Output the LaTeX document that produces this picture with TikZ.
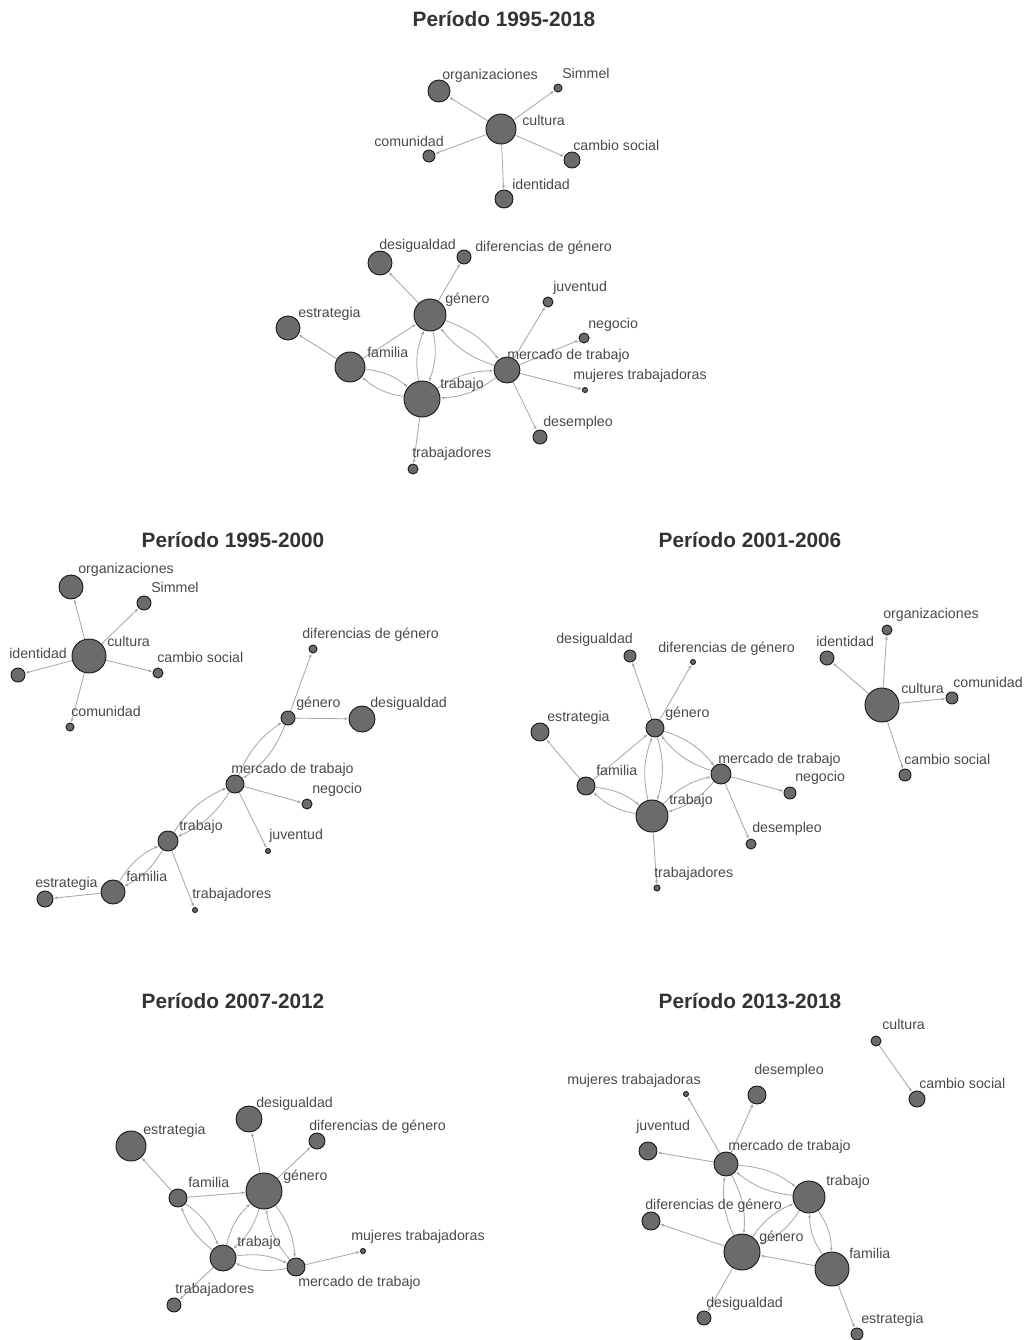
\documentclass[tikz,border=0pt]{standalone}
\usepackage{fontspec}
\setmainfont{Liberation Sans}
\usetikzlibrary{arrows.meta,backgrounds}
\definecolor{nodefill}{HTML}{6B6B6B}
\definecolor{nodeline}{HTML}{1A1A1A}
\definecolor{edgecol}{HTML}{ABABAB}
\definecolor{labcol}{HTML}{4A4A4A}
\definecolor{titcol}{HTML}{333333}
\begin{document}
\begin{tikzpicture}[x=0.75pt,y=-0.75pt,
 nd/.style={circle,draw=nodeline,fill=nodefill,line width=0.7pt,inner sep=0pt,minimum size=#1*1.5pt},
 lab/.style={anchor=west,inner sep=0pt,yshift=-1.1pt,text=labcol,font=\fontsize{10.65}{12}\selectfont,text height=0.72em,text depth=0.2em},
 ttl/.style={text=titcol,font=\fontsize{15.6}{18}\selectfont\bfseries,inner sep=0pt},
 ed/.style={draw=edgecol,line width=0.65pt,-{Latex[length=3pt,width=2.3pt]}},
 dbl/.style={ed,bend left=16}]
\useasboundingbox (0,0) rectangle (1033,1340);

% ---------- titles ----------
\node[ttl] (t1) at (504,19) {Período 1995-2018};
\node[ttl] (t2) at (233,540) {Período 1995-2000};
\node[ttl] (t3) at (750,540) {Período 2001-2006};
\node[ttl] (t4) at (233,1001) {Período 2007-2012};
\node[ttl] (t5) at (750,1001) {Período 2013-2018};

% ---------- Panel A: 1995-2018 ----------
\node[nd=15] (acul) at (501,129) {};
\node[nd=11] (aorg) at (439,91) {};
\node[nd=4] (asim) at (558,88) {};
\node[nd=6] (acom) at (429,156) {};
\node[nd=8] (acam) at (572,160) {};
\node[nd=9] (aide) at (504,199) {};
\node[lab] (aLcul) at (522,121) {cultura};
\node[lab] (aLorg) at (442,75) {organizaciones};
\node[lab] (aLsim) at (562,74) {Simmel};
\node[lab] (aLcom) at (374,142) {comunidad};
\node[lab] (aLcam) at (573,146) {cambio social};
\node[lab] (aLide) at (512,185) {identidad};

\node[nd=12] (adesi) at (380,263) {};
\node[nd=7] (adif) at (464,257) {};
\node[nd=16] (agen) at (430,315) {};
\node[nd=12] (aest) at (288,328) {};
\node[nd=15] (afam) at (350,367) {};
\node[nd=18] (atra) at (422,399) {};
\node[nd=13] (amer) at (507,370) {};
\node[nd=5] (ajuv) at (548,302) {};
\node[nd=5] (aneg) at (584,338) {};
\node[nd=2.5] (amuj) at (585,390) {};
\node[nd=7] (adese) at (540,437) {};
\node[nd=5] (atrs) at (413,469) {};
\node[lab] (aLdesi) at (379,245) {desigualdad};
\node[lab] (aLdif) at (475,247) {diferencias de género};
\node[lab] (aLgen) at (445,299) {género};
\node[lab] (aLest) at (298,313) {estrategia};
\node[lab] (aLfam) at (367,353) {familia};
\node[lab] (aLtra) at (440,384) {trabajo};
\node[lab] (aLmer) at (507,355) {mercado de trabajo};
\node[lab] (aLjuv) at (553,287) {juventud};
\node[lab] (aLneg) at (588,324) {negocio};
\node[lab] (aLmuj) at (573,375) {mujeres trabajadoras};
\node[lab] (aLdese) at (543,422) {desempleo};
\node[lab] (aLtrs) at (412,453) {trabajadores};

% ---------- Panel B: 1995-2000 ----------
\node[nd=17] (bcul) at (89,656) {};
\node[nd=12] (borg) at (71,587) {};
\node[nd=7] (bsim) at (144,603) {};
\node[nd=7] (bide) at (18,675) {};
\node[nd=5] (bcam) at (158,673) {};
\node[nd=4] (bcom) at (70,727) {};
\node[nd=4] (bdif) at (313,649) {};
\node[nd=7] (bgen) at (288,718) {};
\node[nd=13] (bdesi) at (362,719) {};
\node[nd=9] (bmer) at (235,784) {};
\node[nd=5] (bneg) at (307,804) {};
\node[nd=2.5] (bjuv) at (268,851) {};
\node[nd=10] (btra) at (168,841) {};
\node[nd=2.5] (btrs) at (195,910) {};
\node[nd=12] (bfam) at (113,892) {};
\node[nd=8] (best) at (45,899) {};
\node[lab] (bLorg) at (78,569) {organizaciones};
\node[lab] (bLsim) at (151,588) {Simmel};
\node[lab] (bLcul) at (107,642) {cultura};
\node[lab] (bLide) at (9,654) {identidad};
\node[lab] (bLcam) at (157,658) {cambio social};
\node[lab] (bLcom) at (71,712) {comunidad};
\node[lab] (bLdif) at (302,634) {diferencias de género};
\node[lab] (bLgen) at (296,703) {género};
\node[lab] (bLdesi) at (370,703) {desigualdad};
\node[lab] (bLmer) at (231,769) {mercado de trabajo};
\node[lab] (bLneg) at (312,789) {negocio};
\node[lab] (bLjuv) at (269,835) {juventud};
\node[lab] (bLtra) at (179,826) {trabajo};
\node[lab] (bLtrs) at (192,894) {trabajadores};
\node[lab] (bLfam) at (126,877) {familia};
\node[lab] (bLest) at (35,883) {estrategia};

% ---------- Panel C: 2001-2006 ----------
\node[nd=6] (cdesi) at (630,656) {};
\node[nd=2.5] (cdif) at (693,662) {};
\node[nd=9] (cgen) at (655,728) {};
\node[nd=9] (cest) at (540,732) {};
\node[nd=9] (cfam) at (586,786) {};
\node[nd=16] (ctra) at (652,816) {};
\node[nd=10] (cmer) at (721,774) {};
\node[nd=6] (cneg) at (790,793) {};
\node[nd=5] (cdese) at (751,844) {};
\node[nd=3] (ctrs) at (657,888) {};
\node[nd=5] (corg) at (887,630) {};
\node[nd=7] (cide) at (827,658) {};
\node[nd=17] (ccul) at (882,705) {};
\node[nd=6] (ccom) at (952,698) {};
\node[nd=6] (ccam) at (905,775) {};
\node[lab] (cLdesi) at (556,639) {desigualdad};
\node[lab] (cLdif) at (658,648) {diferencias de género};
\node[lab] (cLgen) at (665,713) {género};
\node[lab] (cLest) at (547,717) {estrategia};
\node[lab] (cLfam) at (596,771) {familia};
\node[lab] (cLtra) at (669,800) {trabajo};
\node[lab] (cLmer) at (718,759) {mercado de trabajo};
\node[lab] (cLneg) at (795,777) {negocio};
\node[lab] (cLdese) at (752,828) {desempleo};
\node[lab] (cLtrs) at (654,873) {trabajadores};
\node[lab] (cLorg) at (883,614) {organizaciones};
\node[lab] (cLide) at (816,642) {identidad};
\node[lab] (cLcul) at (901,689) {cultura};
\node[lab] (cLcom) at (953,683) {comunidad};
\node[lab] (cLcam) at (904,760) {cambio social};

% ---------- Panel D: 2007-2012 ----------
\node[nd=15] (dest) at (131,1146) {};
\node[nd=13] (ddesi) at (249,1119) {};
\node[nd=8] (ddif) at (317,1141) {};
\node[nd=18] (dgen) at (264,1191) {};
\node[nd=9] (dfam) at (178,1198) {};
\node[nd=13] (dtra) at (223,1258) {};
\node[nd=9] (dmer) at (296,1267) {};
\node[nd=2.5] (dmuj) at (363,1251) {};
\node[nd=7] (dtrs) at (174,1305) {};
\node[lab] (dLdesi) at (256,1103) {desigualdad};
\node[lab] (dLest) at (143,1130) {estrategia};
\node[lab] (dLdif) at (309,1126) {diferencias de género};
\node[lab] (dLgen) at (283,1176) {género};
\node[lab] (dLfam) at (188,1183) {familia};
\node[lab] (dLtra) at (237,1242) {trabajo};
\node[lab] (dLmuj) at (351,1236) {mujeres trabajadoras};
\node[lab] (dLmer) at (298,1282) {mercado de trabajo};
\node[lab] (dLtrs) at (175,1289) {trabajadores};

% ---------- Panel E: 2013-2018 ----------
\node[nd=5] (ecul) at (876,1041) {};
\node[nd=8] (ecam) at (917,1099) {};
\node[nd=2.5] (emuj) at (686,1094) {};
\node[nd=9] (edese) at (757,1095) {};
\node[nd=9] (ejuv) at (648,1151) {};
\node[nd=12] (emer) at (726,1164) {};
\node[nd=16] (etra) at (809,1197) {};
\node[nd=9] (edif) at (651,1221) {};
\node[nd=18] (egen) at (742,1252) {};
\node[nd=17] (efam) at (832,1269) {};
\node[nd=7] (edesi) at (704,1318) {};
\node[nd=6] (eest) at (857,1334) {};
\node[lab] (eLcul) at (882,1025) {cultura};
\node[lab] (eLcam) at (919,1084) {cambio social};
\node[lab] (eLmuj) at (567,1080) {mujeres trabajadoras};
\node[lab] (eLdese) at (754,1070) {desempleo};
\node[lab] (eLjuv) at (636,1126) {juventud};
\node[lab] (eLmer) at (728,1146) {mercado de trabajo};
\node[lab] (eLtra) at (826,1181) {trabajo};
\node[lab] (eLdif) at (645,1205) {diferencias de género};
\node[lab] (eLgen) at (759,1237) {género};
\node[lab] (eLfam) at (849,1254) {familia};
\node[lab] (eLdesi) at (706,1303) {desigualdad};
\node[lab] (eLest) at (861,1319) {estrategia};

% ---------- edges (behind) ----------
\begin{pgfonlayer}{background}
\fill[white] (0,0) rectangle (1033,1340);
% A
\foreach \t in {aorg,asim,acom,acam,aide} \draw[ed] (acul) -- (\t);
\draw[ed] (agen) -- (adesi);
\draw[ed] (agen) -- (adif);
\draw[ed] (afam) -- (aest);
\draw[ed] (afam) -- (agen);
\draw[dbl] (afam) to (atra); \draw[dbl] (atra) to (afam);
\draw[dbl] (agen) to (atra); \draw[dbl] (atra) to (agen);
\draw[dbl] (agen) to (amer); \draw[dbl] (amer) to (agen);
\draw[dbl] (atra) to (amer); \draw[dbl] (amer) to (atra);
\foreach \t in {ajuv,aneg,amuj,adese} \draw[ed] (amer) -- (\t);
\draw[ed] (atra) -- (atrs);
% B
\foreach \t in {borg,bsim,bide,bcam,bcom} \draw[ed] (bcul) -- (\t);
\draw[ed] (bgen) -- (bdif);
\draw[ed] (bgen) -- (bdesi);
\draw[dbl] (bgen) to (bmer); \draw[dbl] (bmer) to (bgen);
\draw[ed] (bmer) -- (bneg);
\draw[ed] (bmer) -- (bjuv);
\draw[dbl] (bmer) to (btra); \draw[dbl] (btra) to (bmer);
\draw[ed] (btra) -- (btrs);
\draw[dbl] (btra) to (bfam); \draw[dbl] (bfam) to (btra);
\draw[ed] (bfam) -- (best);
% C
\draw[ed] (cgen) -- (cdesi);
\draw[ed] (cgen) -- (cdif);
\draw[ed] (cfam) -- (cest);
\draw[ed] (cfam) -- (cgen);
\draw[dbl] (cfam) to (ctra); \draw[dbl] (ctra) to (cfam);
\draw[dbl] (cgen) to (ctra); \draw[dbl] (ctra) to (cgen);
\draw[dbl] (cgen) to (cmer); \draw[dbl] (cmer) to (cgen);
\draw[dbl] (ctra) to (cmer); \draw[dbl] (cmer) to (ctra);
\draw[ed] (cmer) -- (cneg);
\draw[ed] (cmer) -- (cdese);
\draw[ed] (ctra) -- (ctrs);
\foreach \t in {corg,cide,ccom,ccam} \draw[ed] (ccul) -- (\t);
% D
\draw[ed] (dfam) -- (dest);
\draw[ed] (dgen) -- (ddesi);
\draw[ed] (dgen) -- (ddif);
\draw[ed] (dfam) -- (dgen);
\draw[dbl] (dfam) to (dtra); \draw[dbl] (dtra) to (dfam);
\draw[dbl] (dgen) to (dtra); \draw[dbl] (dtra) to (dgen);
\draw[dbl] (dgen) to (dmer); \draw[dbl] (dmer) to (dgen);
\draw[dbl] (dtra) to (dmer); \draw[dbl] (dmer) to (dtra);
\draw[ed] (dmer) -- (dmuj);
\draw[ed] (dtra) -- (dtrs);
% E
\draw[ed] (ecul) -- (ecam);
\foreach \t in {emuj,edese,ejuv} \draw[ed] (emer) -- (\t);
\draw[dbl] (emer) to (etra); \draw[dbl] (etra) to (emer);
\draw[dbl] (emer) to (egen); \draw[dbl] (egen) to (emer);
\draw[dbl] (etra) to (egen); \draw[dbl] (egen) to (etra);
\draw[dbl] (etra) to (efam); \draw[dbl] (efam) to (etra);
\draw[ed] (efam) -- (egen);
\draw[ed] (egen) -- (edif);
\draw[ed] (egen) -- (edesi);
\draw[ed] (efam) -- (eest);
\end{pgfonlayer}
\end{tikzpicture}
\end{document}
